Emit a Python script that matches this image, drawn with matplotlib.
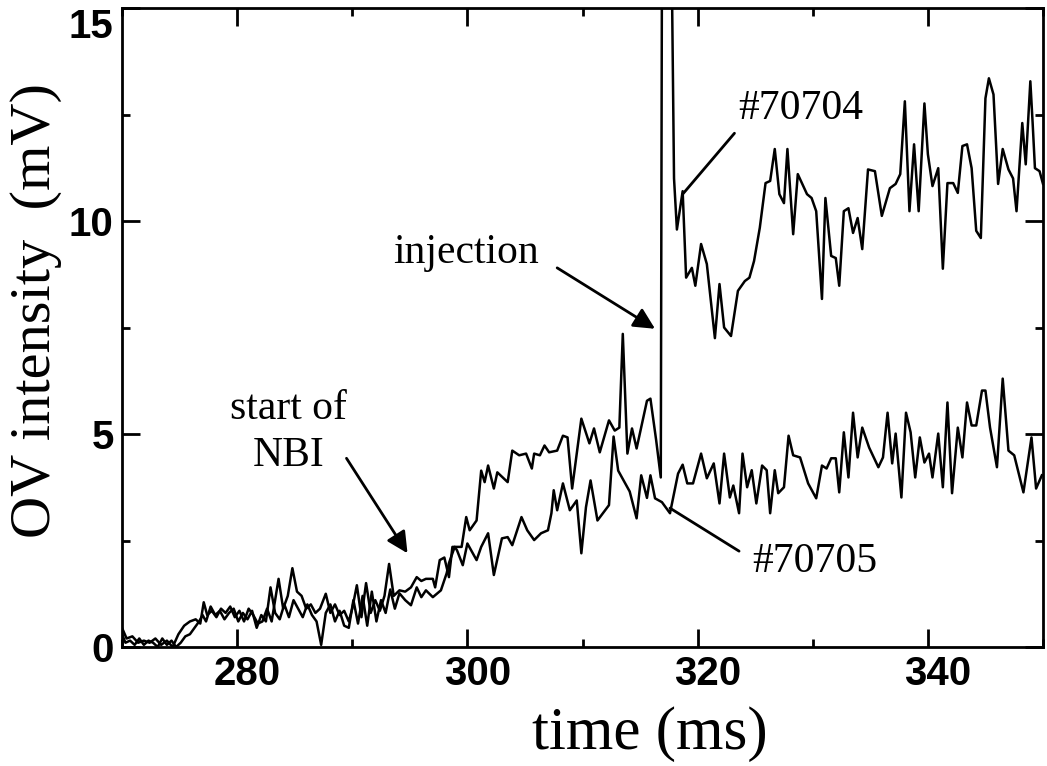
import matplotlib
matplotlib.use("Agg")
import matplotlib.pyplot as plt
from matplotlib.ticker import MultipleLocator
from matplotlib.transforms import ScaledTranslation

# shot #70704 (impurity injected at ~316.9 ms)
t_70704 = [270.0, 270.4, 270.9, 271.4, 271.9, 272.4, 272.9, 273.4, 273.9, 274.4,
           274.9, 275.4, 275.9, 276.4, 276.8, 277.1, 277.4, 277.8, 278.2, 278.6,
           279.0, 279.4, 279.8, 280.2, 280.6, 281.0, 281.4, 281.8, 282.2, 282.6,
           283.0, 283.6, 284.0, 284.4, 284.8, 285.2, 285.6, 286.0, 286.4, 286.8,
           287.2, 287.7, 288.1, 288.5, 288.9, 289.3, 289.7, 290.0, 290.4, 290.8,
           291.2, 291.6, 292.0, 292.4, 292.8, 293.2, 293.6, 294.1, 294.6, 295.1,
           295.6, 296.0, 296.4, 297.0, 297.2, 297.6, 298.0, 298.4, 298.7, 299.5,
           299.9, 300.2, 300.8, 301.2, 301.5, 301.8, 302.3, 302.6, 303.5, 303.9,
           304.5, 305.1, 305.6, 305.8, 306.3, 306.7, 307.1, 307.8, 308.3, 308.7,
           309.1, 309.9, 310.6, 311.0, 311.5, 312.3, 312.8, 313.2, 313.5, 313.9,
           314.3, 314.7, 315.6, 315.9, 316.4, 316.8, 316.9, 317.75, 317.95, 318.2,
           318.7, 319.0, 319.5, 319.8, 320.3, 320.8, 321.5, 321.9, 322.3, 322.9,
           323.5, 324.1, 324.5, 324.9, 325.4, 325.9, 326.3, 326.7, 327.1, 327.5,
           327.8, 328.3, 328.7, 329.5, 329.9, 330.3, 330.8, 331.1, 331.6, 332.0,
           332.3, 332.7, 333.1, 333.5, 333.9, 334.3, 334.8, 335.4, 336.0, 336.7,
           337.2, 337.6, 338.0, 338.4, 338.8, 339.2, 339.7, 340.0, 340.4, 340.9,
           341.3, 341.7, 342.2, 342.6, 343.0, 343.4, 343.8, 344.2, 344.6, 345.0,
           345.3, 345.7, 346.1, 346.5, 347.0, 347.4, 347.7, 348.2, 348.5, 348.9,
           349.1, 349.3, 349.7, 350.0]
v_70704 = [0.45, 0.2, 0.25, 0.1, 0.15, 0.1, 0.2, 0.05, 0.15, 0.0,
           0.3, 0.5, 0.6, 0.65, 0.55, 1.05, 0.75, 0.85, 0.7, 0.9,
           0.8, 0.95, 0.7, 0.85, 0.6, 0.9, 0.75, 0.55, 0.6, 0.9,
           0.6, 1.6, 0.9, 1.2, 1.85, 1.3, 1.2, 0.9, 1.0, 0.8,
           0.9, 1.25, 0.8, 1.0, 0.75, 0.85, 0.6, 0.9, 1.45, 0.7,
           1.5, 0.8, 1.1, 0.85, 1.2, 1.95, 1.2, 1.33, 1.3, 1.4,
           1.64, 1.55, 1.6, 1.6, 1.4, 2.04, 2.1, 1.64, 2.35, 2.35,
           3.05, 2.74, 2.97, 4.14, 3.87, 4.26, 3.72, 4.1, 3.87, 4.61,
           4.5, 4.54, 4.19, 4.54, 4.5, 4.73, 4.57, 4.61, 4.96, 4.92,
           3.72, 5.36, 4.78, 5.13, 4.57, 5.32, 5.08, 5.15, 7.35, 4.54,
           5.13, 4.66, 5.78, 5.83, 4.85, 3.98, 16.0, 16.0, 11.0, 9.8,
           10.7, 8.67, 8.9, 8.48, 9.46, 8.99, 7.25, 8.52, 7.5, 7.3,
           8.36, 8.59, 8.67, 9.06, 9.84, 10.89, 10.94, 11.69, 10.63, 10.42,
           11.69, 9.69, 11.1, 10.63, 10.54, 10.23, 8.17, 10.54, 9.18, 9.13,
           8.48, 10.23, 10.3, 9.72, 10.07, 9.34, 11.21, 11.17, 10.12, 10.77,
           10.87, 11.1, 12.81, 10.23, 11.8, 10.23, 12.76, 11.57, 10.82, 11.24,
           8.88, 10.89, 10.89, 10.66, 11.76, 11.8, 11.24, 9.77, 9.6, 12.88,
           13.35, 12.97, 10.87, 11.69, 11.21, 11.0, 10.23, 12.3, 11.33, 13.28,
           12.3, 11.24, 11.17, 10.87]

# shot #70705 (no injection)
t_70705 = [270.0, 270.3, 270.7, 271.1, 271.5, 271.9, 272.3, 272.7, 273.1, 273.5,
           273.9, 274.3, 274.7, 275.1, 275.5, 275.9, 276.3, 276.7, 277.0, 277.3,
           277.7, 278.1, 278.5, 278.9, 279.3, 279.7, 280.1, 280.5, 280.9, 281.3,
           281.7, 282.1, 282.5, 282.9, 283.3, 283.7, 284.1, 284.5, 284.9, 285.3,
           285.7, 286.1, 286.5, 286.9, 287.3, 287.7, 288.1, 288.5, 288.9, 289.3,
           289.7, 290.1, 290.5, 290.9, 291.3, 291.7, 292.1, 292.5, 292.9, 293.3,
           293.7, 294.1, 294.6, 295.1, 295.6, 296.0, 296.4, 297.0, 297.7, 298.2,
           298.4, 298.9, 299.1, 299.6, 300.0, 300.8, 301.2, 301.8, 302.3, 303.0,
           303.5, 303.9, 304.7, 305.2, 305.8, 306.4, 307.0, 307.3, 307.5, 307.8,
           308.3, 308.9, 309.5, 309.9, 310.3, 310.7, 311.3, 312.3, 312.7, 313.1,
           314.1, 314.7, 315.1, 315.6, 315.9, 316.3, 316.9, 317.6, 318.3, 318.7,
           319.1, 319.6, 320.3, 320.8, 321.4, 321.9, 322.3, 322.8, 323.1, 323.6,
           323.9, 324.3, 324.7, 325.1, 325.6, 326.0, 326.3, 326.7, 327.0, 327.5,
           327.9, 328.3, 328.9, 329.6, 330.3, 330.8, 331.2, 331.6, 332.0, 332.3,
           332.7, 333.1, 333.5, 333.9, 334.3, 334.9, 335.7, 336.1, 336.5, 336.9,
           337.2, 337.7, 338.1, 338.5, 338.9, 339.3, 339.7, 340.1, 340.4, 340.9,
           341.3, 341.7, 342.1, 342.6, 343.0, 343.4, 343.8, 344.2, 344.7, 345.0,
           345.4, 346.0, 346.5, 347.0, 347.5, 348.3, 349.0, 349.4, 349.9]
v_70705 = [0.3, 0.1, 0.15, 0.05, 0.2, 0.05, 0.15, 0.1, 0.0, 0.2,
           0.05, 0.15, 0.0, 0.1, 0.25, 0.3, 0.45, 0.6, 0.75, 0.6,
           0.95, 0.75, 0.85, 0.65, 0.8, 0.9, 0.6, 0.8, 0.65, 0.85,
           0.45, 0.75, 0.6, 1.4, 0.8, 0.65, 1.0, 0.7, 1.1, 0.9,
           0.7, 1.0, 0.75, 0.6, 0.05, 0.8, 1.0, 0.6, 0.85, 0.5,
           0.45, 1.1, 0.55, 1.2, 0.5, 1.3, 0.6, 1.1, 0.8, 1.35,
           0.9, 1.26, 1.1, 0.98, 1.4, 1.17, 1.33, 1.17, 1.33, 1.73,
           1.97, 2.35, 2.27, 1.92, 2.43, 2.04, 2.35, 2.67, 1.69, 2.55,
           2.58, 2.39, 3.05, 2.74, 2.51, 2.67, 2.74, 3.14, 3.68, 3.21,
           3.84, 3.21, 3.44, 2.2, 3.28, 3.91, 2.97, 3.33, 4.94, 4.14,
           3.65, 3.02, 4.03, 3.5, 4.03, 3.49, 3.4, 3.14, 4.07, 4.28,
           3.84, 3.84, 4.54, 3.96, 4.31, 3.37, 4.54, 3.51, 3.79, 3.14,
           4.54, 3.75, 4.15, 3.37, 4.26, 4.15, 3.14, 4.15, 3.61, 3.75,
           4.96, 4.5, 4.45, 3.84, 3.49, 4.26, 4.19, 4.43, 4.43, 3.63,
           5.04, 3.98, 5.5, 4.45, 5.15, 4.68, 4.22, 4.45, 5.5, 4.31,
           5.01, 3.51, 5.5, 5.04, 3.98, 4.92, 4.33, 4.54, 3.98, 5.01,
           3.75, 5.74, 3.61, 5.15, 4.45, 5.74, 5.2, 5.2, 6.02, 6.02,
           5.15, 4.22, 6.3, 4.61, 4.5, 3.63, 4.92, 3.72, 4.03]

x_ticks = [280, 300, 320, 340]
y_ticks = [0, 5, 10, 15]

serif = ["Liberation Serif", "DejaVu Serif"]
sans = ["Liberation Sans", "DejaVu Sans"]

fig = plt.figure(figsize=(10.47, 7.66), dpi=100)
ax = fig.add_axes([122 / 1047, 1 - 647 / 766, 921 / 1047, 639 / 766])

ax.plot(t_70704, v_70704, color="black", lw=1.8)
ax.plot(t_70705, v_70705, color="black", lw=1.8)

ax.set_xlim(270, 350)
ax.set_ylim(0, 15)

ax.set_xticks(x_ticks)
ax.set_yticks(y_ticks)
ax.xaxis.set_minor_locator(MultipleLocator(10))
ax.yaxis.set_minor_locator(MultipleLocator(2.5))
ax.tick_params(which="both", direction="in", top=True, right=True, width=2)
ax.tick_params(which="major", length=13, pad=6)
ax.tick_params(which="minor", length=6)
for sp in ax.spines.values():
    sp.set_linewidth(2)

shift = ScaledTranslation(0.1, 0, fig.dpi_scale_trans)
for lbl in ax.get_xticklabels():
    lbl.set_transform(lbl.get_transform() + shift)
for lbl in ax.get_xticklabels() + ax.get_yticklabels():
    lbl.set_fontfamily(sans)
    lbl.set_fontweight("bold")
    lbl.set_fontsize(29)
ax.get_yticklabels()[-1].set_va("top")

fig.text(650 / 1047, 1 - 734 / 766, "time (ms)", family=serif, fontsize=44,
         ha="center", va="center")
fig.text(36 / 1047, 1 - 310 / 766, "OV intensity  (mV)", family=serif, fontsize=42,
         ha="center", va="center", rotation=90)

# annotations
txt = dict(family=serif, fontsize=30, ha="center", va="baseline")
ax.text(299.9, 9.02, "injection", **txt)
ax.text(284.5, 5.36, "start of", **txt)
ax.text(284.5, 4.26, "NBI", **txt)
ax.text(329.0, 12.39, "#70704", **txt)
ax.text(330.2, 1.76, "#70705", **txt)

head = dict(arrowstyle="-|>", color="black", lw=2, mutation_scale=32,
            shrinkA=0, shrinkB=0)
ax.annotate("", xy=(316.3, 7.47), xytext=(307.8, 8.9), arrowprops=head)
ax.annotate("", xy=(294.8, 2.2), xytext=(289.5, 4.43), arrowprops=head)
plain = dict(arrowstyle="-", color="black", lw=2, shrinkA=0, shrinkB=0)
ax.annotate("", xy=(318.7, 10.63), xytext=(323.2, 12.06), arrowprops=plain)
ax.annotate("", xy=(317.6, 3.26), xytext=(323.6, 2.25), arrowprops=plain)

fig.savefig("out.png", dpi=100)
